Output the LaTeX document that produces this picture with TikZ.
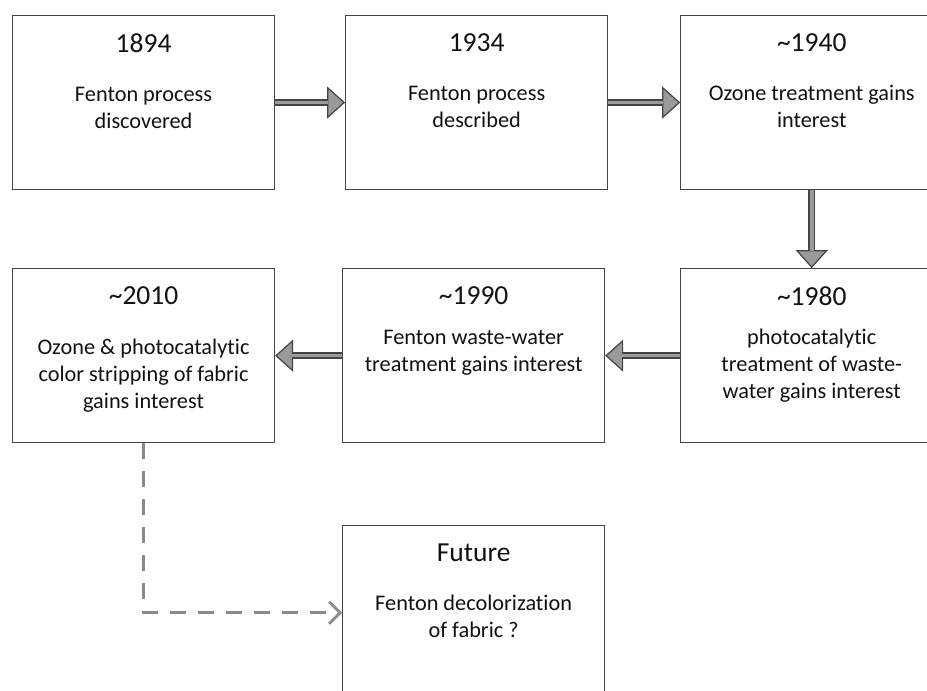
\documentclass[tikz,border=0pt]{standalone}
\usepackage{fontspec}
\setmainfont{Carlito}[Ligatures=NoCommon]
\usetikzlibrary{positioning, arrows.meta}
\definecolor{edgegray}{HTML}{444444}
\definecolor{fillgray}{HTML}{9A9A9A}
\definecolor{dashgray}{HTML}{8A8A8A}
\definecolor{textgray}{HTML}{111111}
\newcommand{\yearfont}{\fontsize{27.5}{32}\selectfont}
\newcommand{\descfont}{\fontsize{22.3}{27}\selectfont}
\newcommand{\stagetext}[3][22.5pt]{\parbox[c][174pt][t]{250pt}{\centering
  \vspace*{18pt}{\yearfont #2\par}\vspace{#1}{\descfont #3\par}}}
\tikzstyle{Box} = [
draw=edgegray, line width=1.1pt, inner sep=0pt,
minimum width=262pt, minimum height=174pt, text=textgray]
\tikzstyle{BlockArrow} = [
draw=edgegray, line width=7pt,
-{Triangle[length=18pt, width=32pt, fill=fillgray, line width=1.2pt]},
postaction={draw=fillgray, line width=3.6pt, -, shorten >=17pt}]
\tikzstyle{DashArrow} = [
draw=dashgray, line width=2.8pt, dash pattern=on 16pt off 12pt,
-{Straight Barb[length=11pt, width=22pt]}]
\begin{document}
\begin{tikzpicture}[x=1pt, y=-1pt]
    \useasboundingbox (0,0) rectangle (927,691);
    \clip (0,0) rectangle (927,691);

    \node [Box, anchor=north west] (1) at (12,15)
        {\stagetext{1894}{Fenton process\\discovered}};
    \node [Box, right=70pt of 1] (2)
        {\stagetext{1934}{Fenton process\\described}};
    \node [Box, right=72pt of 2] (3)
        {\stagetext{\textasciitilde1940}{Ozone treatment gains\\interest}};
    \node [Box, below=78pt of 3] (4)
        {\stagetext[12.5pt]{\textasciitilde1980}{photocatalytic\\treatment of waste-\\water gains interest}};
    \node [Box, left=75pt of 4] (5)
        {\stagetext[12.5pt]{\textasciitilde1990}{Fenton waste-water\\treatment gains interest}};
    \node [Box, left=67pt of 5] (6)
        {\stagetext{\textasciitilde2010}{Ozone \& photocatalytic\\color stripping of fabric\\gains interest}};
    \node [Box, below=82pt of 5] (7)
        {\stagetext{Future}{Fenton decolorization\\of fabric ?}};

    \draw[BlockArrow] (1) -- (2);
    \draw[BlockArrow] (2) -- (3);
    \draw[BlockArrow] (3) -- (4);
    \draw[BlockArrow] (4) -- (5);
    \draw[BlockArrow] (5) -- (6);
    \draw[DashArrow] (6.south) |- (7.west);
\end{tikzpicture}
\end{document}
